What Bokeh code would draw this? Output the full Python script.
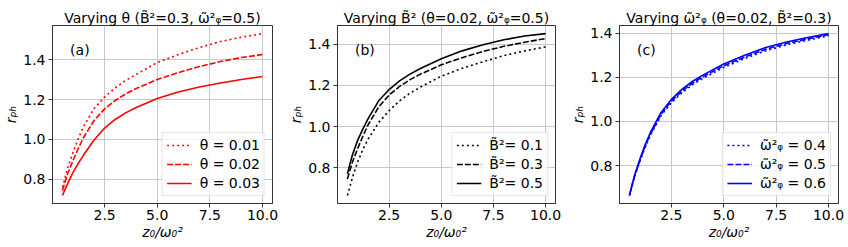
from bokeh.plotting import figure
from bokeh.layouts import row
from bokeh.models import Range1d, FixedTicker, Label, NumeralTickFormatter
from bokeh.embed import file_html
from bokeh.resources import INLINE

# ---------------- data ----------------
z0 = [0.5, 0.6, 0.75, 1.0, 1.25, 1.5, 2.0, 2.5, 3.0, 3.5, 4.0, 5.0, 6.0, 7.0, 8.0, 9.0, 10.0]

# (a) varying theta  (B~^2 = 0.3, w~_phi^2 = 0.5)
theta_labels = ["θ = 0.01", "θ = 0.02", "θ = 0.03"]
r_theta_001 = [0.76, 0.80, 0.86, 0.935, 1.005, 1.065, 1.155, 1.212, 1.258, 1.295, 1.326, 1.385, 1.425, 1.46, 1.49, 1.512, 1.53]
r_theta_002 = [0.745, 0.78, 0.83, 0.895, 0.955, 1.01, 1.095, 1.153, 1.195, 1.228, 1.255, 1.30, 1.335, 1.365, 1.39, 1.41, 1.425]
r_theta_003 = [0.72, 0.745, 0.78, 0.835, 0.88, 0.922, 0.997, 1.057, 1.10, 1.133, 1.16, 1.205, 1.238, 1.263, 1.283, 1.30, 1.315]

# (b) varying B~^2  (theta = 0.02, w~_phi^2 = 0.5)
B_labels = ["B̃²= 0.1", "B̃²= 0.3", "B̃²= 0.5"]
r_B_01 = [0.665, 0.70, 0.755, 0.83, 0.89, 0.94, 1.02, 1.077, 1.125, 1.162, 1.192, 1.245, 1.283, 1.315, 1.345, 1.368, 1.387]
r_B_03 = [0.745, 0.78, 0.83, 0.895, 0.955, 1.01, 1.095, 1.153, 1.195, 1.228, 1.255, 1.30, 1.335, 1.365, 1.39, 1.41, 1.428]
r_B_05 = [0.77, 0.81, 0.865, 0.935, 0.99, 1.04, 1.125, 1.18, 1.222, 1.255, 1.282, 1.33, 1.368, 1.398, 1.422, 1.44, 1.452]

# (c) varying w~_phi^2  (theta = 0.02, B~^2 = 0.3)
w_labels = ["ω̃²ᵩ = 0.4", "ω̃²ᵩ = 0.5", "ω̃²ᵩ = 0.6"]
r_w_04 = [0.665, 0.70, 0.752, 0.82, 0.882, 0.937, 1.025, 1.085, 1.13, 1.166, 1.195, 1.245, 1.285, 1.32, 1.347, 1.368, 1.388]
r_w_05 = [0.665, 0.702, 0.755, 0.825, 0.888, 0.943, 1.032, 1.092, 1.137, 1.173, 1.202, 1.252, 1.292, 1.327, 1.353, 1.374, 1.393]
r_w_06 = [0.665, 0.704, 0.758, 0.83, 0.895, 0.95, 1.04, 1.10, 1.145, 1.181, 1.21, 1.26, 1.30, 1.335, 1.36, 1.38, 1.398]

titles = ["Varying θ (B̃²=0.3, ω̃²ᵩ=0.5)",
          "Varying B̃² (θ=0.02, ω̃²ᵩ=0.5)",
          "Varying ω̃²ᵩ (θ=0.02, B̃²=0.3)"]
tags = ["(a)", "(b)", "(c)"]
x_ticks = [2.5, 5.0, 7.5, 10.0]
y_ticks = [0.8, 1.0, 1.2, 1.4]
x_label = "z₀/ω₀²"
y_label = "rₚₕ"

FONT = "DejaVu Sans"
DASHES = [":", "--", "-"]
DASH_MAP = {":": "2 3", "--": "6 2", "-": "solid"}
HEIGHT = 247


def make_panel(width, left, right, title, series, labels, color, tag):
    xs_all = z0
    ys_all = [v for s in series for v in s]
    xlo, xhi = min(xs_all), max(xs_all)
    ylo, yhi = min(ys_all), max(ys_all)
    xm = 0.05 * (xhi - xlo)
    ym = 0.05 * (yhi - ylo)
    p = figure(width=width, height=HEIGHT,
               x_range=Range1d(xlo - xm, xhi + xm), y_range=Range1d(ylo - ym, yhi + ym),
               output_backend="svg", toolbar_location=None,
               min_border_left=left, min_border_right=right,
               min_border_top=25, min_border_bottom=44)
    p.title.text = title
    p.title.align = "center"
    p.title.text_font = FONT
    p.title.text_font_size = "14px"
    p.title.text_font_style = "normal"
    p.title.text_color = "black"
    p.title.standoff = 0

    for ys, lab, d in zip(series, labels, DASHES):
        p.line(z0, ys, line_color=color, line_width=1.6, line_dash=DASH_MAP[d], legend_label=lab)

    for ax in (p.xaxis[0], p.yaxis[0]):
        ax.major_label_text_font = FONT
        ax.major_label_text_font_size = "14px"
        ax.major_label_text_color = "black"
        ax.major_tick_out = 4
        ax.major_tick_in = 0
        ax.minor_tick_out = 0
        ax.minor_tick_in = 0
        ax.axis_line_color = "#333333"
        ax.major_tick_line_color = "#333333"
        ax.formatter = NumeralTickFormatter(format="0.0")
        ax.axis_label_text_font = FONT
        ax.axis_label_text_font_size = "14px"
        ax.axis_label_text_font_style = "italic"
        ax.axis_label_text_color = "black"
    p.xaxis.ticker = FixedTicker(ticks=x_ticks)
    p.yaxis.ticker = FixedTicker(ticks=y_ticks)
    p.xaxis.major_label_standoff = 2
    p.yaxis.major_label_standoff = 3
    p.xaxis.axis_label = x_label
    p.xaxis.axis_label_standoff = 1
    p.yaxis.axis_label = y_label
    p.yaxis.axis_label_standoff = 1

    p.grid.grid_line_color = "#c8c8c8"
    p.grid.grid_line_width = 1
    p.outline_line_color = "#333333"
    p.outline_line_width = 1

    xr, yr = p.x_range, p.y_range
    p.add_layout(Label(x=xr.start + 0.08 * (xr.end - xr.start),
                       y=yr.start + 0.86 * (yr.end - yr.start),
                       text=tag, text_align="left", text_baseline="middle",
                       text_font=FONT, text_font_size="14px", text_color="black"))

    lg = p.legend[0]
    lg.location = "bottom_right"
    lg.margin = 7
    lg.padding = 4
    lg.spacing = 3
    lg.glyph_width = 25
    lg.glyph_height = 16
    lg.label_height = 16
    lg.label_standoff = 8
    lg.label_text_font = FONT
    lg.label_text_font_size = "14px"
    lg.label_text_color = "black"
    lg.border_line_color = "#cccccc"
    lg.border_line_width = 1
    lg.background_fill_alpha = 0.8
    return p


p1 = make_panel(285, 47, 13, titles[0], [r_theta_001, r_theta_002, r_theta_003], theta_labels, "#ff0000", tags[0])
p2 = make_panel(282, 47, 12, titles[1], [r_B_01, r_B_03, r_B_05], B_labels, "#000000", tags[1])
p3 = make_panel(281, 47, 10, titles[2], [r_w_04, r_w_05, r_w_06], w_labels, "#0000ff", tags[2])

layout = row(p1, p2, p3)
open("out.html", "w").write(file_html(layout, INLINE))
